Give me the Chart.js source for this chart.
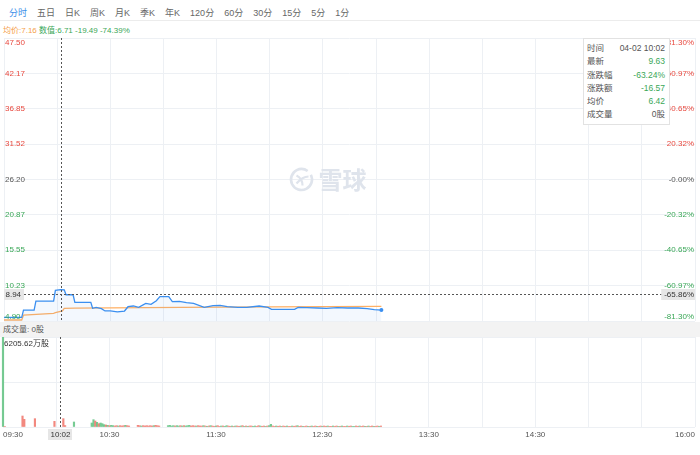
<!DOCTYPE html>
<html>
<head>
<meta charset="utf-8">
<script src="https://cdn.jsdelivr.net/npm/chart.js@4.4.1/dist/chart.umd.min.js"></script>
<style>
  html, body { margin: 0; padding: 0; background: #fff; }
  body { width: 700px; height: 455px; position: relative; overflow: hidden;
         font-family: "Liberation Sans", "Noto Sans CJK SC", sans-serif; }
  canvas { position: absolute; left: 0; top: 0; }
  .tabs { position: absolute; left: 0; top: 0; width: 700px; height: 21px; box-sizing: border-box;
          border-bottom: 1px solid #ececec; display: flex; gap: 10px; padding: 8px 0 0 9px;
          font-size: 9px; line-height: 11px; color: #666; }
  .tabs .on { color: #3d8fe9; }
  .legend { position: absolute; left: 3px; top: 25px; font-size: 8px; line-height: 11px; white-space: nowrap; }
  .band { position: absolute; left: 0; top: 322px; width: 700px; height: 15px; background: #f3f3f3;
          font-size: 8px; line-height: 15px; padding-left: 3px; box-sizing: border-box; color: #555; }
  .tip { position: absolute; left: 583px; top: 38px; width: 87px; height: 87px; box-sizing: border-box;
         background: #fff; border: 1px solid #e2e2e2; padding: 3px 4px 0 3px; font-size: 8.5px;
         line-height: 13.3px; color: #555; }
  .tip div { display: flex; justify-content: space-between; }
  .tip .g { color: #3aa757; }
</style>
</head>
<body>
<div class="tabs">
  <span class="on">分时</span><span>五日</span><span>日K</span><span>周K</span><span>月K</span><span>季K</span>
  <span>年K</span><span>120分</span><span>60分</span><span>30分</span><span>15分</span><span>5分</span><span>1分</span>
</div>
<div class="legend"><span style="color:#f5a04a">均价:7.16</span> <span style="color:#3aa757">数值:6.71 -19.49 -74.39%</span></div>
<div class="band">成交量: 0股</div>
<canvas id="priceChart" width="700" height="455"></canvas>
<canvas id="volChart" width="700" height="455"></canvas>
<div class="tip">
  <div><span>时间</span><span>04-02 10:02</span></div>
  <div><span>最新</span><span class="g">9.63</span></div>
  <div><span>涨跌幅</span><span class="g">-63.24%</span></div>
  <div><span>涨跌额</span><span class="g">-16.57</span></div>
  <div><span>均价</span><span class="g">6.42</span></div>
  <div><span>成交量</span><span>0股</span></div>
</div>
<script>
// minutes after 09:30
var priceMinutes = [0, 10, 11, 17, 18, 28, 29, 32, 34, 35, 39, 40, 49, 50, 52, 55, 57, 60, 64, 68,
  70, 73, 76, 80, 83, 86, 88, 93, 95, 99, 103, 107, 113, 118, 122, 126, 132, 137, 144, 149,
  151, 158, 164, 166, 171, 177, 182, 188, 194, 200, 205, 209, 213];
var prices = [5.45, 5.45, 6.55, 6.55, 7.90, 7.90, 9.50, 9.63, 9.60, 8.85, 8.85, 7.70, 7.70, 6.81, 6.96, 6.75, 6.41, 6.41, 6.26, 6.40,
  7.05, 7.16, 6.96, 7.56, 7.41, 7.96, 8.56, 8.56, 7.81, 7.86, 7.66, 7.56, 6.96, 7.21, 7.26, 7.05, 6.96, 6.96, 7.16, 6.96,
  6.66, 6.66, 6.66, 6.96, 6.90, 6.86, 6.81, 6.91, 6.86, 6.86, 6.76, 6.62, 6.55];
var avgMinutes = [0, 10, 11, 28, 29, 33, 34, 40, 60, 100, 150, 213];
var avgPrices = [5.05, 5.05, 5.80, 6.05, 6.15, 6.42, 6.81, 6.84, 6.88, 6.95, 7.02, 7.10];

// volume per minute (万股), direction 1 = up (red), -1 = down (green)
var volumes = [
  6205.62, 40, 0, 0, 0, 0, 0, 0, 0, 0,
  0, 758, 530, 0, 0, 0, 0, 0, 575, 0,
  0, 0, 0, 0, 0, 0, 0, 0, 0, 390,
  0, 0, 0, 0, 575, 100, 0, 0, 0, 0,
  345, 0, 0, 0, 0, 0, 0, 0, 0, 0,
  276, 505, 414, 322, 230, 276, 230, 161, 138, 115,
  92, 115, 92, 69, 92, 69, 92, 69, 92, 115,
  92, 69, 0, 0, 0, 0, 115, 92, 69, 92,
  69, 92, 69, 92, 69, 92, 115, 92, 69, 0,
  0, 0, 0, 92, 115, 69, 92, 69, 92, 69,
  92, 69, 92, 69, 92, 115, 69, 92, 69, 69,
  92, 69, 69, 92, 69, 46, 69, 92, 69, 46,
  69, 92, 46, 69, 69, 46, 92, 69, 46, 69,
  46, 69, 69, 46, 69, 92, 46, 69, 46, 69,
  69, 46, 69, 46, 92, 69, 46, 69, 46, 69,
  92, 185, 69, 46, 69, 46, 69, 46, 69, 46,
  69, 46, 46, 69, 46, 69, 92, 46, 69, 46,
  46, 69, 46, 46, 69, 46, 69, 46, 46, 69,
  46, 69, 46, 69, 46, 46, 69, 46, 69, 46,
  46, 69, 46, 46, 69, 46, 69, 46, 46, 69,
  46, 69, 46, 69, 46, 46, 69, 46, 69, 46,
  46, 69, 46, 69];
var volDirs = [
  -1, 1, 0, 0, 0, 0, 0, 0, 0, 0,
  0, 1, 1, 0, 0, 0, 0, 0, 1, 0,
  0, 0, 0, 0, 0, 0, 0, 0, 0, 1,
  0, 0, 0, 0, 1, 1, 0, 0, 0, 0,
  -1, 0, 0, 0, 0, 0, 0, 0, 0, 0,
  -1, -1, 1, -1, 1, -1, -1, -1, 1, -1,
  1, -1, -1, 1, 1, -1, 1, 1, 1, -1,
  1, 1, 0, 0, 0, 0, 1, 1, -1, 1,
  1, 1, 1, 1, 1, -1, 1, 1, 1, 0,
  0, 0, 0, -1, -1, -1, -1, 1, -1, -1,
  1, -1, 1, -1, -1, -1, 1, 1, 1, -1,
  1, 1, 1, -1, 1, -1, 1, -1, 1, 1,
  -1, 1, 1, -1, 1, -1, -1, 1, 1, -1,
  1, -1, 1, 1, -1, 1, -1, 1, -1, 1,
  1, -1, -1, 1, 1, -1, 1, 1, -1, 1,
  -1, -1, 1, 1, -1, 1, 1, -1, 1, 1,
  -1, 1, 1, -1, 1, 1, -1, 1, 1, -1,
  1, 1, -1, 1, -1, 1, 1, -1, 1, 1,
  -1, 1, 1, -1, 1, 1, -1, 1, 1, -1,
  1, -1, 1, 1, -1, 1, 1, -1, -1, 1,
  1, -1, 1, 1, -1, 1, -1, 1, 1, -1,
  1, 1, -1, 1];

var basePrice = 26.20;
var priceTicks = [47.50, 42.17, 36.85, 31.52, 26.20, 20.87, 15.55, 10.23, 4.90];
var pctTicks = ['81.30%', '60.97%', '40.65%', '20.32%', '-0.00%', '-20.32%', '-40.65%', '-60.97%', '-81.30%'];
var volTicks = [0, 3102.81, 6205.62];
var volMaxLabel = '6205.62万股';
var timeTickMinutes = [0, 60, 120, 180, 240, 300, 390];
var timeTickLabels = ['09:30', '10:30', '11:30', '12:30', '13:30', '14:30', '16:00'];
var crossMinute = 32, crossTimeLabel = '10:02';
var crossPrice = 8.94, crossPriceLabel = '8.94', crossPctLabel = '-65.86%';

var RED = '#e8493f', GREEN = '#3aa757', GRAY = '#555';
var GRID = '#edf0f4';
var FONT = '8px "Liberation Sans", "Noto Sans CJK SC"';

function dotted(ctx, x1, y1, x2, y2) {
  ctx.save();
  ctx.strokeStyle = '#555';
  ctx.lineWidth = 1;
  ctx.setLineDash([2, 2]);
  ctx.beginPath();
  ctx.moveTo(x1, y1);
  ctx.lineTo(x2, y2);
  ctx.stroke();
  ctx.restore();
}

var priceDecor = {
  id: 'priceDecor',
  beforeDatasetsDraw: function(chart) {
    var ctx = chart.ctx, a = chart.chartArea;
    var mx = (a.left + a.right) / 2, my = (a.top + a.bottom) / 2;
    ctx.save();
    ctx.strokeStyle = '#dfe4ec';
    ctx.fillStyle = '#dfe4ec';
    ctx.lineWidth = 2.6;
    // logo
    var lx = mx - 48, ly = my;
    ctx.beginPath();
    ctx.arc(lx, ly, 10.5, -0.15 * Math.PI, 1.7 * Math.PI);
    ctx.stroke();
    ctx.lineWidth = 2.2;
    ctx.beginPath();
    ctx.moveTo(lx - 5, ly - 4);
    ctx.quadraticCurveTo(lx + 1, ly - 1, lx + 1, ly + 6);
    ctx.moveTo(lx - 5, ly + 4);
    ctx.quadraticCurveTo(lx + 1, ly - 3, lx + 7, ly - 3);
    ctx.stroke();
    ctx.font = 'bold 24px "Noto Sans CJK SC"';
    ctx.textBaseline = 'middle';
    ctx.textAlign = 'left';
    ctx.fillText('雪球', mx - 31, my);
    ctx.restore();
  },
  afterDraw: function(chart) {
    var ctx = chart.ctx, a = chart.chartArea, x = chart.scales.x, y = chart.scales.y;
    var cx = Math.round(x.getPixelForValue(crossMinute)) + 0.5;
    var cy = Math.round(y.getPixelForValue(crossPrice)) + 0.5;
    dotted(ctx, cx, a.top, cx, a.bottom);
    dotted(ctx, a.left, cy, a.right, cy);

    ctx.save();
    ctx.font = FONT;
    ctx.textBaseline = 'middle';
    priceTicks.forEach(function(v, i) {
      var py = y.getPixelForValue(v);
      if (i === 0) py += 5;
      else if (i === priceTicks.length - 1) py -= 4.5;
      ctx.fillStyle = v > basePrice ? RED : (v < basePrice ? GREEN : GRAY);
      ctx.textAlign = 'left';
      ctx.fillText(v.toFixed(2), a.left + 1, py);
      ctx.textAlign = 'right';
      ctx.fillText(pctTicks[i], a.right - 1, py);
    });
    // crosshair labels
    ctx.fillStyle = '#e6e6e6';
    ctx.fillRect(a.left, cy - 5.5, 20, 11);
    var w = ctx.measureText(crossPctLabel).width + 4;
    ctx.fillRect(a.right - w, cy - 5.5, w, 11);
    ctx.fillStyle = '#333';
    ctx.textAlign = 'left';
    ctx.fillText(crossPriceLabel, a.left + 1.5, cy);
    ctx.textAlign = 'right';
    ctx.fillText(crossPctLabel, a.right - 1, cy);
    ctx.restore();
  }
};

var volDecor = {
  id: 'volDecor',
  afterDraw: function(chart) {
    var ctx = chart.ctx, a = chart.chartArea, x = chart.scales.x;
    var cx = Math.round(x.getPixelForValue(crossMinute)) + 0.5;
    dotted(ctx, cx, a.top, cx, a.bottom);
    ctx.save();
    ctx.font = FONT;
    ctx.textBaseline = 'middle';
    ctx.fillStyle = '#333';
    ctx.textAlign = 'left';
    ctx.fillText(volMaxLabel, a.left + 1, a.top + 7);
    var ly = a.bottom + 7.5;
    ctx.fillStyle = '#555';
    timeTickMinutes.forEach(function(m, i) {
      ctx.textAlign = i === 0 ? 'left' : (i === timeTickMinutes.length - 1 ? 'right' : 'center');
      ctx.fillText(timeTickLabels[i], x.getPixelForValue(m), ly);
    });
    ctx.fillStyle = '#e6e6e6';
    ctx.fillRect(cx - 12.5, ly - 5.5, 24, 11);
    ctx.fillStyle = '#333';
    ctx.textAlign = 'center';
    ctx.fillText(crossTimeLabel, cx, ly);
    ctx.restore();
  }
};

function timeAxis() {
  return {
    type: 'linear', min: 0, max: 390,
    offset: false,
    ticks: { display: false, stepSize: 30 },
    grid: { color: GRID, drawTicks: false, offset: false },
    border: { display: false }
  };
}

var priceData = priceMinutes.map(function(m, i) { return { x: m, y: prices[i] }; });
var avgData = avgMinutes.map(function(m, i) { return { x: m, y: avgPrices[i] }; });

var priceChart = new Chart(document.getElementById('priceChart').getContext('2d'), {
  type: 'line',
  data: {
    datasets: [{
      data: priceData,
      borderColor: '#3b8ff0',
      borderWidth: 1.3,
      backgroundColor: 'rgba(59, 143, 240, 0.06)',
      fill: 'start',
      tension: 0,
      pointRadius: function(c) { return c.dataIndex === priceData.length - 1 ? 2 : 0; },
      pointBackgroundColor: '#3b8ff0',
      pointBorderWidth: 0
    }, {
      data: avgData,
      borderColor: '#ffb064',
      borderWidth: 1.3,
      fill: false,
      tension: 0,
      pointRadius: 0
    }]
  },
  options: {
    responsive: false,
    animation: false,
    devicePixelRatio: 1,
    layout: { padding: { left: 3, right: 5, top: 38, bottom: 134 } },
    plugins: { legend: { display: false }, tooltip: { enabled: false } },
    scales: {
      x: timeAxis(),
      y: {
        min: 4.90, max: 47.50,
        afterBuildTicks: function(s) { s.ticks = priceTicks.map(function(v) { return { value: v }; }); },
        ticks: { display: false },
        grid: { color: GRID, drawTicks: false },
        border: { display: false }
      }
    }
  },
  plugins: [priceDecor]
});

var volData = [];
volumes.forEach(function(v, i) { if (v > 0) volData.push({ x: i, y: v }); });

var volChart = new Chart(document.getElementById('volChart').getContext('2d'), {
  type: 'bar',
  data: {
    datasets: [{
      data: volData,
      barThickness: 1.5,
      clip: { left: 3, top: 0, right: 0, bottom: 0 },
      backgroundColor: function(c) {
        var p = c.raw;
        if (!p) return 'transparent';
        return volDirs[p.x] > 0 ? 'rgba(240, 115, 105, 0.85)' : 'rgba(85, 190, 120, 0.8)';
      }
    }]
  },
  options: {
    responsive: false,
    animation: false,
    devicePixelRatio: 1,
    layout: { padding: { left: 3, right: 5, top: 337, bottom: 28 } },
    plugins: { legend: { display: false }, tooltip: { enabled: false } },
    scales: {
      x: timeAxis(),
      y: {
        min: 0, max: 6205.62,
        afterBuildTicks: function(s) { s.ticks = volTicks.map(function(v) { return { value: v }; }); },
        ticks: { display: false },
        grid: { color: GRID, drawTicks: false },
        border: { display: false }
      }
    }
  },
  plugins: [volDecor]
});
</script>
</body>
</html>
